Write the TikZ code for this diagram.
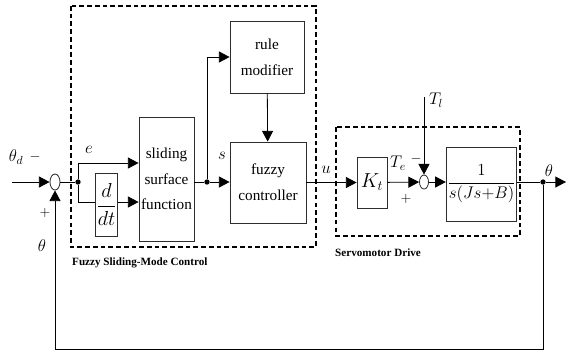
\documentclass[tikz,border=0pt]{standalone}
\usepackage{amsmath}
\usepackage{fontspec}
\setmainfont{Liberation Serif}
\usepackage{xcolor}
\usetikzlibrary{arrows.meta,positioning,calc,shapes.geometric}
\definecolor{bdedge}{RGB}{45,45,45}
\tikzset{
  blk/.style={
    draw=bdedge, line width=0.7pt, align=center, inner sep=1pt,
    font=\fontsize{13}{22}\selectfont
  },
  sumj/.style={draw=bdedge, line width=0.7pt, ellipse, inner sep=0pt},
  arr/.style={-{Triangle[length=3.2mm,width=3.3mm]}, draw=black, line width=0.7pt},
  ln/.style={draw=black, line width=0.7pt},
  dotn/.style={circle, fill=black, inner sep=0pt, minimum size=1.6mm},
  grp/.style={draw=black, line width=1.1pt, dash pattern=on 4pt off 2.6pt},
  lbl/.style={font=\Large, inner sep=0pt},
  sgn/.style={font=\large, inner sep=0pt},
  anno/.style={font=\fontsize{9.5}{11}\selectfont\bfseries, anchor=west, inner sep=0pt}
}
\begin{document}
\begin{tikzpicture}[x=0.03cm, y=-0.03cm]
  \useasboundingbox (0,0) rectangle (566,351);
  % dashed groups
  \draw[grp] (71,6) rectangle (316,247);
  \draw[grp] (336,127) rectangle (520,236);
  \node[anno] (fsmc) at (72,263) {Fuzzy Sliding-Mode Control};
  \node[anno] (srvo) at (335,253) {Servomotor Drive};
  % blocks
  \node[sumj, minimum width=0.3cm, minimum height=0.48cm] (sum1) at (55,182) {};
  \node[blk, minimum width=0.63cm, minimum height=1.89cm] (ddt) at (106.5,204.5) {\LARGE$\dfrac{d}{dt}$};
  \node[blk, minimum width=1.65cm, minimum height=3.72cm] (slide) at (166.5,179) {sliding\\surface\\function};
  \node[blk, minimum width=2.22cm, minimum height=2.16cm] (rule) at (267,57) {rule\\modifier};
  \node[blk, minimum width=2.28cm, minimum height=2.43cm] (fuzzy) at (268,182.5) {fuzzy\\controller};
  \node[blk, minimum width=0.9cm, minimum height=1.53cm] (kt) at (372,182.5) {\LARGE$K_t$};
  \node[sumj, minimum width=0.27cm, minimum height=0.42cm] (sum2) at (424,182) {};
  \node[blk, minimum width=1.83cm, minimum height=2.22cm] (plant) at (481.5,184) {\Large$\dfrac{1}{s(Js{+}B)}$};
  % branch points
  \node[dotn] (d1) at (78,182) {};
  \node[dotn] (d2) at (207,182) {};
  \node[dotn] (d3) at (543,182) {};
  \coordinate (in) at (12,182);
  \coordinate (tl) at (424,97);
  \coordinate (out) at (566,182);
  % connectors
  \draw[arr] (in) -- (sum1);
  \draw[ln] (sum1) -- (d1);
  \draw[arr] (d1) |- ($(slide.west)+(0,-16)$);
  \draw[ln] (d1) |- (ddt.west |- 0,202);
  \draw[arr] (ddt.east |- 0,202) -- (slide.west |- 0,202);
  \draw[ln] (slide.east |- d2) -- (d2);
  \draw[arr] (d2) -- (fuzzy.west |- d2);
  \draw[arr] (d2) |- (rule.west);
  \draw[arr] (rule) -- (fuzzy);
  \draw[arr] (fuzzy.east |- kt) -- (kt);
  \draw[arr] (kt) -- (sum2);
  \draw[arr] (tl) -- (sum2);
  \draw[arr] (sum2) -- (plant.west |- sum2);
  \draw[ln] (plant.east |- d3) -- (d3);
  \draw[arr] (d3) -- (out);
  \draw[arr] (d3) -- (543,349) -- (55,349) -- (sum1);
  % signal labels
  \node[lbl] (thd) at (16,157) {$\theta_d$};
  \node[sgn] (m1) at (35,157) {$-$};
  \node[sgn] (p1) at (45,213) {$+$};
  \node[lbl] (th1) at (42,246) {$\theta$};
  \node[lbl] (lbe) at (89,150) {$e$};
  \node[lbl] (lbs) at (222,156) {$s$};
  \node[lbl] (lbu) at (326,170) {$u$};
  \node[lbl] (lbte) at (398,163) {$T_e$};
  \node[sgn] (m2) at (416,159) {$-$};
  \node[sgn] (p2) at (406,199) {$+$};
  \node[lbl] (lbtl) at (436,100) {$T_l$};
  \node[lbl] (th2) at (549,171) {$\theta$};
\end{tikzpicture}
\end{document}
